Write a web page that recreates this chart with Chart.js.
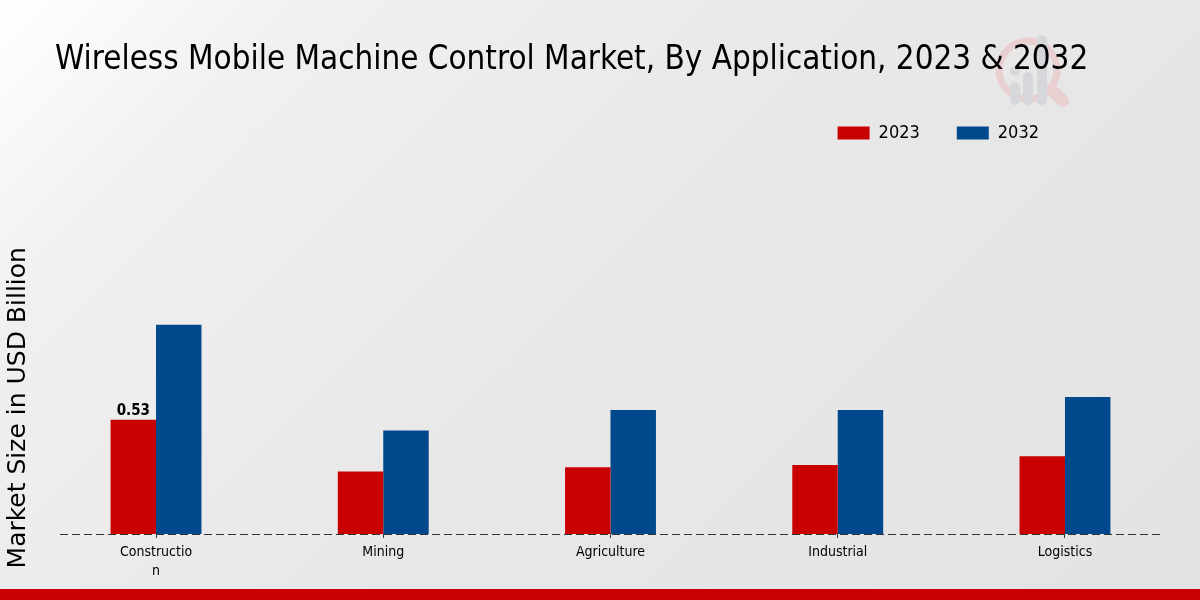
<!DOCTYPE html>
<html><head><meta charset="utf-8">
<style>html,body{margin:0;padding:0;width:1200px;height:600px;overflow:hidden;background:#fff}
#w{position:relative;width:1200px;height:600px;background:linear-gradient(135deg,#ffffff 0%,#f0f0f0 18%,#e8e8e8 50%,#e3e3e3 100%)}
canvas{position:absolute;left:0;top:0}</style>
<script src="https://cdn.jsdelivr.net/npm/chart.js@4"></script></head>
<body><div id="w"><canvas id="c" width="1200" height="600"></canvas></div>
<script>
const categories=[["Constructio","n"],"Mining","Agriculture","Industrial","Logistics"];
const series2023=[0.53,0.29,0.31,0.32,0.36];
const series2032=[0.97,0.48,0.575,0.575,0.635];
const seriesNames=["2023","2032"];
const titleText="Wireless Mobile Machine Control Market, By Application, 2023 & 2032";
const axisTitle="Market Size in USD Billion";
const narrow='"DejaVu Sans Condensed","DejaVu Sans"';
const extras={id:'extras',
 afterLayout(ch){
  const t=ch.titleBlock;t.left=55;t.right=1160;t.top=41;t.bottom=81;
  const l=ch.legend;l.top=87;l.bottom=187;l.left=800;l.right=1076;
 },
 beforeDraw(ch){const c=ch.ctx;c.save();
  c.strokeStyle='#eacfd1';c.lineWidth=7;c.beginPath();c.arc(1028,70,29,0,Math.PI*2);c.stroke();
  c.lineCap='round';c.lineWidth=12;c.beginPath();c.moveTo(1054,92);c.lineTo(1063,101);c.stroke();
  c.fillStyle='#d5d7da';
  [[1010,82],[1023,72],[1037,35]].forEach(([x,top])=>{c.beginPath();c.roundRect(x,top,10,105-top,5);c.fill();});
  c.beginPath();c.arc(1015,71,5,0,Math.PI*2);c.fill();
  c.restore();},
 afterDraw(ch){const c=ch.ctx;c.save();c.fillStyle='#c80000';c.fillRect(0,589,1200,11);
  const y=Math.round(ch.scales.y.getPixelForValue(0));c.strokeStyle='#333';c.lineWidth=1;c.setLineDash([8,4]);c.beginPath();c.moveTo(60,y+.5);c.lineTo(1160,y+.5);c.stroke();
  const m=ch.getDatasetMeta(0).data[0];c.setLineDash([]);c.fillStyle='#000';c.font='bold 15px "DejaVu Sans Condensed","DejaVu Sans"';c.textAlign='center';c.textBaseline='bottom';c.fillText(String(series2023[0]),m.x,m.y-1);
  c.restore();}};
new Chart(document.getElementById('c'),{type:'bar',
 data:{labels:categories,datasets:[
  {label:seriesNames[0],data:series2023,backgroundColor:'#c80000',barPercentage:1,categoryPercentage:.4},
  {label:seriesNames[1],data:series2032,backgroundColor:'#00498c',barPercentage:1,categoryPercentage:.4}]},
 plugins:[extras],
 options:{responsive:false,animation:false,devicePixelRatio:1,
  layout:{padding:{left:0,right:21.4,top:177,bottom:11}},
  plugins:{title:{display:true,text:titleText,align:'start',color:'#000',font:{family:narrow,size:32.9,weight:'normal'},padding:{top:0,bottom:0}},
   legend:{display:true,align:'end',labels:{boxWidth:32,boxHeight:13,color:'#000',font:{family:narrow,size:18},padding:37}},tooltip:{enabled:false}},
  scales:{x:{grid:{display:true,offset:false,drawOnChartArea:false,drawTicks:true,tickLength:4,color:'#333'},border:{display:false},ticks:{color:'#000',font:{family:narrow,size:14,lineHeight:1.36},padding:5,maxRotation:0,autoSkip:false},afterFit(s){s.height=55}},
   y:{min:0,max:1.171,grid:{display:false},border:{display:false},ticks:{display:false},afterFit(s){s.width=42.4},title:{display:true,text:axisTitle,color:'#000',padding:{top:3,bottom:0},font:{family:'"DejaVu Sans"',size:25}}}}}});
</script></body></html>
